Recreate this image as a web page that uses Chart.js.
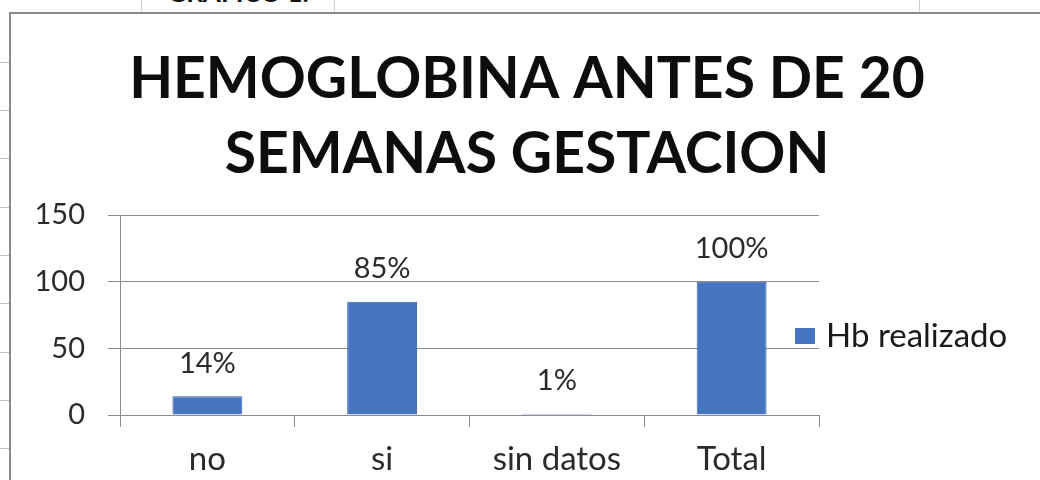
<!DOCTYPE html>
<html lang="es">
<head>
<meta charset="utf-8">
<title>Hemoglobina antes de 20 semanas de gestación</title>
<script src="https://cdn.jsdelivr.net/npm/chart.js@4.4.1/dist/chart.umd.min.js"></script>
<style>
  html, body { margin: 0; padding: 0; background: #fff; }
  #page { position: relative; width: 1040px; height: 480px; overflow: hidden; background: #fff; }
  /* worksheet frame around the chart object */
  #frame { position: absolute; left: 9px; top: 12px; width: 1040px; height: 480px;
           border-left: 2px solid #8a8a8a; border-top: 2px solid #8a8a8a; }
  #caption { position: absolute; left: 141px; top: -21px; width: 192px; height: 33px;
             border-left: 1px solid #cfcfcf; border-right: 1px solid #cfcfcf;
             font: bold 26px Lato, sans-serif; line-height: 26px; text-align: center; color: #111; }
  #cell { position: absolute; left: 919px; top: 0; width: 1px; height: 12px; background: #cfcfcf; }
  .row { position: absolute; left: 0; width: 9px; height: 1px; background: #c4c4c4; }
  #chart { position: absolute; left: 0; top: 0; }
</style>
</head>
<body>
<div id="page">
  <div id="caption">GRAFICO 1.</div>
  <div id="cell"></div>
  <div class="row" style="top:62px"></div>
  <div class="row" style="top:110px"></div>
  <div class="row" style="top:158px"></div>
  <div class="row" style="top:207px"></div>
  <div class="row" style="top:255px"></div>
  <div class="row" style="top:303px"></div>
  <div class="row" style="top:352px"></div>
  <div class="row" style="top:400px"></div>
  <div class="row" style="top:448px"></div>
  <div id="frame"></div>
  <canvas id="chart" width="1040" height="480"></canvas>
</div>
<script>
// Hemoglobin test done before week 20 of pregnancy (percent of patients)
const categories = ['no', 'si', 'sin datos', 'Total'];
const hbRealizado = [14, 85, 1, 100];
const yTicks = [0, 50, 100, 150];
const seriesName = 'Hb realizado';
const chartTitle = ['HEMOGLOBINA ANTES DE 20', 'SEMANAS GESTACION'];

const FONT = 'Lato, "Open Sans", sans-serif';
const BAR_FILL = '#4575BE';
const BAR_EDGE = '#3B67AC';
const LINE = '#8c8c8c';
const TEXT = '#2b2b2b';

// percentage written above each bar
const valueLabels = {
  id: 'valueLabels',
  afterDatasetsDraw(chart) {
    const { ctx } = chart;
    const meta = chart.getDatasetMeta(0);
    ctx.save();
    ctx.font = '29px ' + FONT;
    ctx.fillStyle = TEXT;
    ctx.textAlign = 'center';
    ctx.textBaseline = 'middle';
    meta.data.forEach((bar, i) => {
      ctx.fillText(hbRealizado[i] + '%', bar.x, bar.y - 33);
    });
    ctx.restore();
  }
};

// single-series legend at the right edge of the plot
const sideLegend = {
  id: 'sideLegend',
  afterDraw(chart) {
    const { ctx, chartArea } = chart;
    const ds = chart.data.datasets[0];
    const x = chartArea.right - 24;
    const y = chartArea.top + chartArea.height * 0.605;
    ctx.save();
    ctx.fillStyle = ds.backgroundColor;
    ctx.fillRect(x, y - 8, 20, 16);
    ctx.font = '33px ' + FONT;
    ctx.fillStyle = '#1a1a1a';
    ctx.textAlign = 'left';
    ctx.textBaseline = 'middle';
    ctx.fillText(ds.label, x + 31, y);
    ctx.restore();
  }
};

new Chart(document.getElementById('chart'), {
  type: 'bar',
  data: {
    labels: categories,
    datasets: [{
      label: seriesName,
      data: hbRealizado,
      backgroundColor: BAR_FILL,
      borderColor: BAR_EDGE,
      borderWidth: 1,
      barPercentage: 0.4,
      categoryPercentage: 1
    }]
  },
  options: {
    responsive: false,
    animation: false,
    layout: { padding: { left: 14, right: 0, top: 0, bottom: 0 } },
    plugins: {
      legend: { display: false },
      tooltip: { enabled: false },
      title: {
        display: true,
        text: chartTitle,
        color: '#0d0d0d',
        font: { family: FONT, weight: 'bold', size: 57, lineHeight: 75 / 57 },
        padding: { top: 42, bottom: 23 }
      }
    },
    scales: {
      x: {
        grid: { offset: true, drawOnChartArea: false, tickLength: 12, color: LINE },
        border: { color: LINE },
        ticks: { font: { family: FONT, size: 33 }, color: TEXT, padding: 13 },
        afterFit(scale) { scale.height = 65; scale.paddingRight = 221; }
      },
      y: {
        min: 0,
        max: 150,
        afterBuildTicks(scale) { scale.ticks = yTicks.map(v => ({ value: v })); },
        grid: { color: LINE, tickLength: 12 },
        border: { color: LINE },
        ticks: { font: { family: FONT, size: 29 }, color: TEXT, padding: 23 },
        afterFit(scale) { scale.width = 106; }
      }
    }
  },
  plugins: [valueLabels, sideLegend]
});
</script>
</body>
</html>
